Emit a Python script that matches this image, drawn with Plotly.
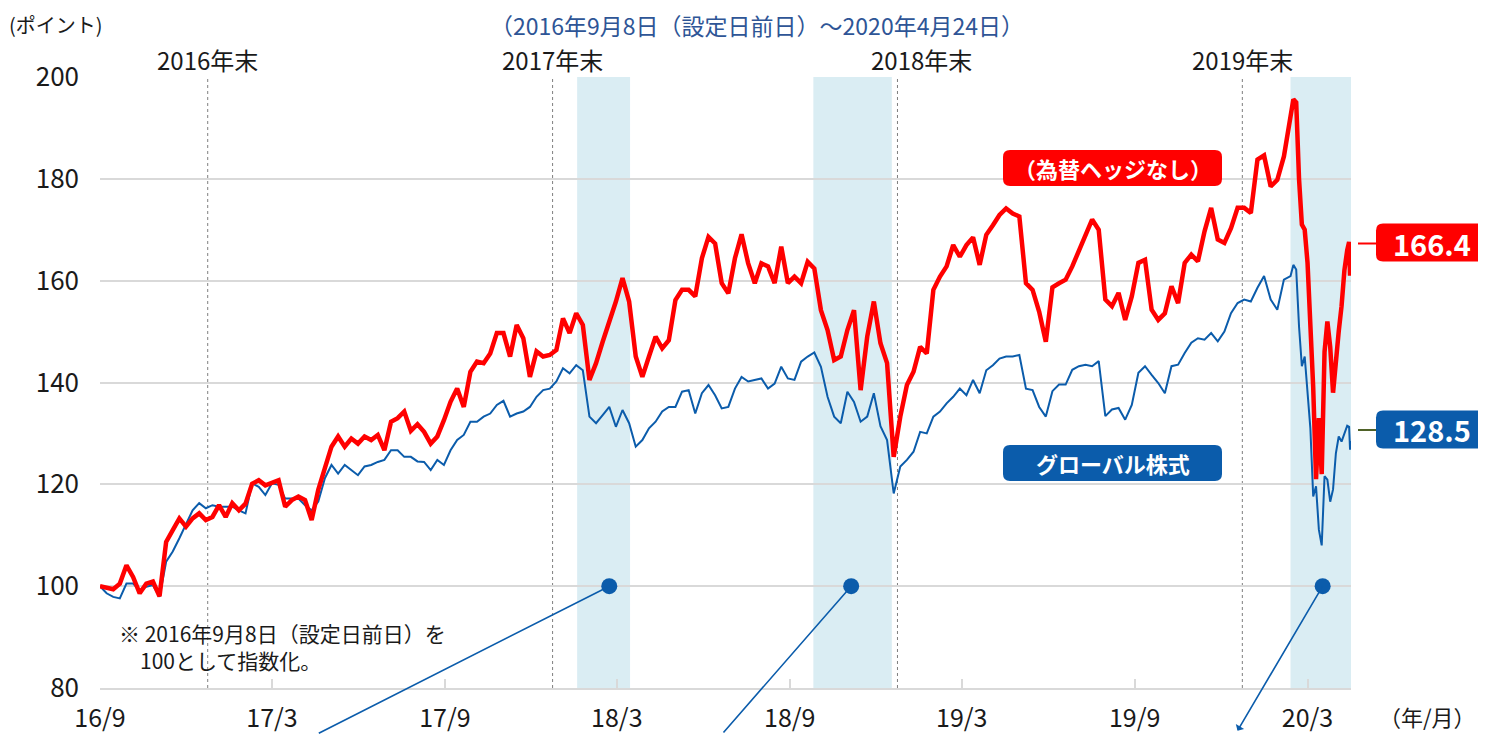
import pandas as pd
import plotly.graph_objects as go

# ---------------- data ----------------
weekly_dates = pd.date_range("2016-09-08", "2020-02-20", freq="7D")
crash_dates = ["2020-02-23", "2020-02-26", "2020-02-29", "2020-03-03", "2020-03-06",
               "2020-03-09", "2020-03-12", "2020-03-15", "2020-03-18", "2020-03-21",
               "2020-03-24", "2020-03-27", "2020-03-30", "2020-04-02", "2020-04-05",
               "2020-04-08", "2020-04-11", "2020-04-14", "2020-04-17", "2020-04-20",
               "2020-04-22", "2020-04-23", "2020-04-24"]

red_weekly = [
    100.0, 99.6, 99.4, 100.5, 104.1, 101.8, 98.6, 100.5, 100.9, 98.0,
    108.7, 111.0, 113.3, 111.7, 113.3, 114.3, 113.0, 113.6, 115.9, 113.6,
    116.3, 114.9, 116.2, 120.1, 120.8, 119.8, 120.2, 120.8, 115.6, 116.9,
    117.6, 116.9, 113.0, 118.9, 123.2, 127.4, 129.4, 127.4, 129.0, 128.0,
    129.4, 128.7, 129.7, 126.7, 132.3, 133.0, 134.3, 130.5, 131.8, 130.3,
    128.0, 129.4, 132.6, 136.2, 138.8, 135.2, 142.1, 144.1, 143.8, 145.7,
    149.7, 149.7, 145.1, 151.3, 148.7, 141.1, 146.1, 145.1, 145.4, 146.4,
    152.6, 149.7, 153.6, 151.3, 140.5, 143.8, 148.0, 151.9, 155.9, 160.5,
    155.9, 145.1, 141.1, 145.1, 149.0, 146.7, 148.3, 156.2, 158.2, 158.2,
    156.9, 164.4, 168.6, 167.3, 159.5, 157.5, 164.4, 169.1, 163.4, 159.5,
    163.4, 162.8, 159.5, 166.7, 159.5, 160.8, 159.5, 163.7, 162.4, 154.2,
    150.3, 144.4, 145.1, 150.3, 154.2, 138.5, 149.0, 155.9, 147.7, 143.8,
    125.4, 133.3, 139.5, 142.1, 147.0, 145.7, 158.2, 160.8, 162.8, 167.0,
    164.7, 167.0, 168.5, 163.1, 169.0, 170.9, 172.9, 174.2, 173.2, 172.6,
    159.5, 158.2, 153.9, 148.0, 158.7, 159.5, 160.2, 162.8, 165.8, 168.7,
    172.0, 170.0, 156.3, 155.0, 157.6, 152.3, 156.9, 163.5, 164.1, 154.3,
    152.3, 153.6, 158.9, 155.6, 163.5, 165.1, 163.8, 169.7, 174.3, 168.1,
    167.4, 170.3, 174.3, 174.3, 173.3, 183.8, 184.6, 178.5, 179.8, 184.4,
    192.0]
red_crash = [195.6, 195.0, 180.0, 171.0, 170.0, 163.5, 151.0, 139.0, 121.0, 133.0,
             122.0, 146.0, 152.0, 147.0, 138.0, 145.0, 150.0, 155.0, 162.0, 166.0,
             167.6, 161.0, 166.4]

blue_weekly = [
    100.0, 98.6, 97.9, 97.6, 100.5, 100.5, 99.2, 99.9, 100.2, 97.9,
    104.8, 106.8, 109.4, 112.0, 114.9, 116.3, 115.3, 115.9, 115.6, 115.6,
    115.6, 114.9, 114.3, 120.2, 119.5, 117.9, 120.2, 119.9, 117.2, 117.2,
    117.2, 115.9, 114.9, 116.6, 121.2, 123.8, 122.1, 123.8, 122.8, 121.8,
    123.5, 123.8, 124.4, 124.8, 126.7, 126.7, 125.4, 125.4, 124.5, 124.4,
    122.8, 124.8, 123.8, 126.7, 128.7, 129.7, 132.3, 132.3, 133.3, 133.9,
    135.6, 136.4, 133.3, 133.9, 134.3, 135.2, 137.2, 138.5, 138.8, 140.2,
    142.8, 141.8, 143.4, 142.4, 133.3, 132.0, 133.6, 135.2, 131.3, 134.6,
    132.0, 127.4, 128.7, 131.0, 132.3, 134.3, 135.2, 135.2, 138.2, 138.5,
    133.9, 137.9, 139.5, 137.5, 134.9, 135.2, 138.8, 141.1, 140.2, 140.5,
    140.8, 138.8, 139.8, 143.1, 140.8, 140.5, 144.1, 145.1, 145.9, 143.1,
    137.2, 133.3, 132.0, 138.2, 136.2, 132.3, 133.3, 137.9, 131.4, 128.7,
    118.2, 123.5, 124.8, 126.4, 130.3, 130.0, 133.3, 134.3, 135.9, 137.2,
    138.8, 137.5, 140.5, 137.9, 142.4, 143.4, 144.7, 145.1, 145.1, 145.4,
    138.8, 138.5, 135.2, 133.3, 138.3, 139.6, 139.6, 142.5, 143.2, 143.5,
    143.2, 144.2, 133.4, 134.7, 135.0, 132.7, 135.6, 141.9, 143.2, 141.5,
    139.9, 137.9, 143.2, 143.5, 145.8, 147.8, 148.7, 148.4, 149.7, 148.1,
    150.0, 153.6, 155.6, 156.3, 155.9, 158.6, 160.9, 156.3, 154.3, 160.2,
    160.9]
blue_crash = [163.1, 162.2, 151.0, 143.2, 145.1, 138.0, 131.0, 117.6, 119.6, 111.1,
              108.0, 121.6, 120.9, 116.6, 119.0, 126.1, 129.4, 128.4, 130.1, 131.5,
              131.3, 126.8, 128.5]

series_names = ["（為替ヘッジなし）", "グローバル株式"]
year_end_dates = ["2016-12-31", "2017-12-31", "2018-12-31", "2019-12-31"]
year_end_labels = ["2016年末", "2017年末", "2018年末", "2019年末"]
shade_starts = ["2018-01-26", "2018-10-03", "2020-02-20"]
shade_ends = ["2018-03-23", "2018-12-25", "2020-04-24"]
callout_dates = ["2018-03-01", "2018-11-12", "2020-03-25"]
callout_levels = [100, 100, 100]
tick_dates = ["2016-09-08", "2017-03-09", "2017-09-08", "2018-03-09",
              "2018-09-08", "2019-03-09", "2019-09-08", "2020-03-09"]
tick_labels = ["16/9", "17/3", "17/9", "18/3", "18/9", "19/3", "19/9", "20/3"]

dates = list(weekly_dates.strftime("%Y-%m-%d")) + crash_dates
red = red_weekly + red_crash
blue = blue_weekly + blue_crash

# ---------------- layout geometry (page has an 8px body margin) ----------------
OFF = 8
W, H = 1486 - OFF, 734 - OFF
PLOT_X0, PLOT_X1, PLOT_Y0, PLOT_Y1 = 100, 1351, 77, 688   # on-screen plot area
L, T = PLOT_X0 - OFF, PLOT_Y0 - OFF
R, B = W - (PLOT_X1 - OFF), H - (PLOT_Y1 - OFF)
PW, PH = PLOT_X1 - PLOT_X0, PLOT_Y1 - PLOT_Y0
FONT = "Noto Sans CJK JP, Noto Sans, sans-serif"
RED = "#ff0000"
BLUE = "#0b5cab"
SHADE = "#daedf3"
GRID = "#d9d9d9"
TXT = "#1a1a1a"


def px(x):
    return (x - PLOT_X0) / PW


def py(y):
    return (PLOT_Y1 - y) / PH


fig = go.Figure()
fig.add_trace(go.Scatter(x=dates, y=blue, mode="lines", name=series_names[1],
                         line=dict(color=BLUE, width=2)))
fig.add_trace(go.Scatter(x=dates, y=red, mode="lines", name=series_names[0],
                         line=dict(color=RED, width=4.5)))
fig.add_trace(go.Scatter(x=callout_dates, y=callout_levels, mode="markers",
                         marker=dict(color=BLUE, size=16), cliponaxis=False,
                         showlegend=False))

shapes = []
for s, e in zip(shade_starts, shade_ends):
    shapes.append(dict(type="rect", xref="x", yref="paper", x0=s, x1=e, y0=0, y1=1,
                       fillcolor=SHADE, line=dict(width=0), layer="between"))
for d in year_end_dates:
    shapes.append(dict(type="line", xref="x", yref="paper", x0=d, x1=d, y0=0, y1=1,
                       line=dict(color="#7f7f7f", width=1, dash="dot"), layer="between"))


def rounded(xc, yc, hw, hh, r, color):
    path = (f"M{-hw + r},{-hh} L{hw - r},{-hh} Q{hw},{-hh} {hw},{-hh + r} "
            f"L{hw},{hh - r} Q{hw},{hh} {hw - r},{hh} L{-hw + r},{hh} "
            f"Q{-hw},{hh} {-hw},{hh - r} L{-hw},{-hh + r} Q{-hw},{-hh} {-hw + r},{-hh} Z")
    return dict(type="path", xref="paper", yref="paper", xsizemode="pixel",
                ysizemode="pixel", xanchor=px(xc), yanchor=py(yc), path=path,
                fillcolor=color, line=dict(width=0), layer="above")


shapes.append(rounded(1112.5, 168, 109.5, 18, 7, RED))
shapes.append(rounded(1112.5, 463, 109.5, 18, 7, BLUE))
shapes.append(rounded(1431, 242.5, 55, 19, 7, RED))
shapes.append(rounded(1431, 429.5, 55, 19, 7, BLUE))
shapes.append(dict(type="line", xref="paper", yref="paper", x0=px(1358), x1=px(1376),
                   y0=py(243.5), y1=py(243.5), line=dict(color=RED, width=2)))
shapes.append(dict(type="line", xref="paper", yref="paper", x0=px(1358), x1=px(1376),
                   y0=py(430), y1=py(430), line=dict(color="#4f6228", width=2)))


def label(x, y, text, size, color=TXT, xanchor="center", weight="normal", **kw):
    d = dict(x=px(x), y=py(y), xref="paper", yref="paper", text=text, showarrow=False,
             xanchor=xanchor, yanchor="middle", align="left",
             font=dict(size=size, color=color, family=FONT, weight=weight))
    d.update(kw)
    return d


ann = []
for d, lab in zip(year_end_dates, year_end_labels):
    ann.append(dict(x=d, y=py(60), xref="x", yref="paper", text=lab, showarrow=False,
                    xanchor="center", yanchor="middle",
                    xshift=24 if lab.startswith("2018") else 0,
                    font=dict(size=24, color=TXT, family=FONT)))
ann.append(label(757, 25, "（2016年9月8日（設定日前日）～2020年4月24日）", 23, color="#2e5596"))
ann.append(label(7, 24, "(ポイント)", 20, xanchor="left"))
ann.append(label(1427, 716, "（年/月）", 22))
ann.append(label(117, 646, "※ 2016年9月8日（設定日前日）を<br>\u3000100として指数化。", 21,
                 xanchor="left"))
# series labels
ann.append(label(1112.5, 168, series_names[0], 22, color="white", weight="bold"))
ann.append(label(1112.5, 463, series_names[1], 22, color="white", weight="bold"))
ann.append(label(1432, 242.5, f"{red[-1]:.1f}", 29, color="white", weight="bold"))
ann.append(label(1432, 429.5, f"{blue[-1]:.1f}", 29, color="white", weight="bold"))
# callout pointers
offsets = [(-292, 150), (-129, 150), (-86, 146)]
for i, (d, v) in enumerate(zip(callout_dates, callout_levels)):
    a = dict(x=d, y=v, xref="x", yref="y", text="", showarrow=True, ax=offsets[i][0],
             ay=offsets[i][1], arrowcolor=BLUE, arrowwidth=1.6, arrowhead=0, standoff=0)
    if i == 2:
        a.update(arrowside="start", arrowhead=2, arrowsize=1.3)
    ann.append(a)

fig.update_layout(
    width=W, height=H, margin=dict(l=L, r=R, t=T, b=B, autoexpand=False),
    paper_bgcolor="white", plot_bgcolor="white", showlegend=False,
    font=dict(family=FONT, color=TXT),
    shapes=shapes, annotations=ann,
    xaxis=dict(type="date", range=[dates[0], dates[-1]], showgrid=False, zeroline=False,
               showline=True, linecolor=GRID, linewidth=2, ticks="inside", ticklen=9,
               tickwidth=2, tickcolor=GRID, tickvals=tick_dates, ticktext=tick_labels,
               tickfont=dict(size=25, color=TXT), ticklabelstandoff=7, automargin=False),
    yaxis=dict(range=[80, 200], dtick=20, showgrid=True, gridcolor=GRID, gridwidth=2,
               zeroline=False, showline=False, ticks="", automargin=False,
               tickfont=dict(size=26, color=TXT), ticklabelstandoff=20),
)

fig.write_html("out.html")
